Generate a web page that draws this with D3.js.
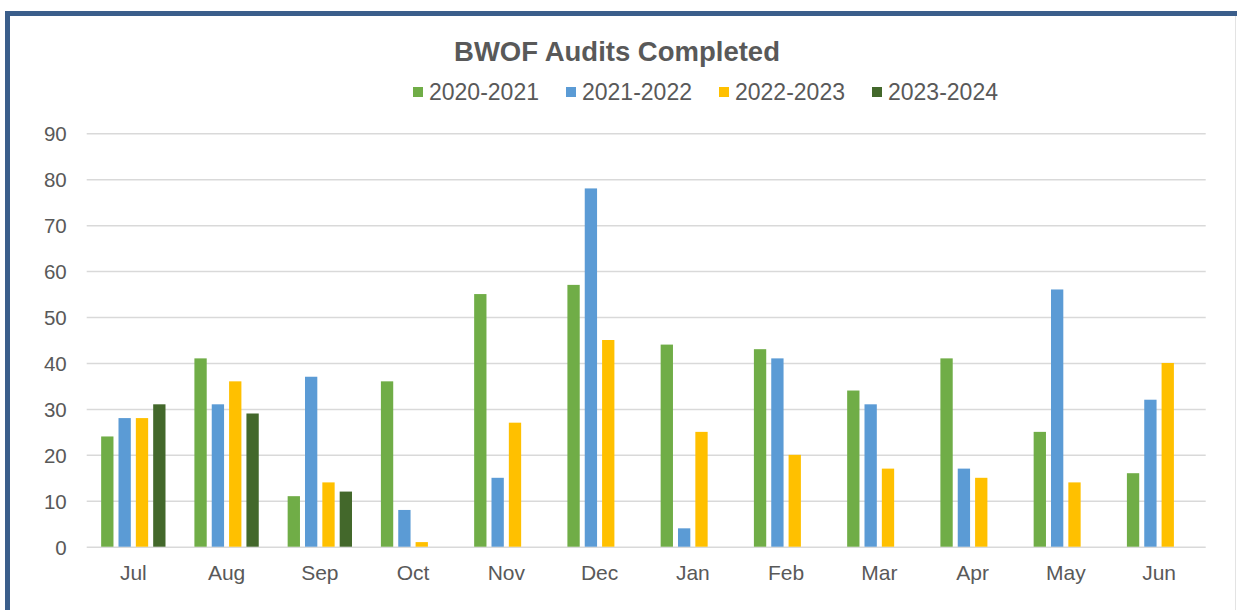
<!DOCTYPE html>
<html lang="en">
<head>
<meta charset="utf-8">
<title>BWOF Audits Completed</title>
<script src="https://d3js.org/d3.v7.min.js"></script>
<style>
  body { margin: 0; background: #fff; }
  svg { display: block; font-family: "Liberation Sans", Arial, sans-serif; }
</style>
</head>
<body>
<script>
// months of the financial year (Jul - Jun)
var months = ["Jul", "Aug", "Sep", "Oct", "Nov", "Dec", "Jan", "Feb", "Mar", "Apr", "May", "Jun"];
var seriesNames = ["2020-2021", "2021-2022", "2022-2023", "2023-2024"];
var seriesColors = ["#70ad47", "#5b9bd5", "#ffc000", "#43682b"];

// audits completed per month, one array per year
var fy2021 = [24, 41, 11, 36, 55, 57, 44, 43, 34, 41, 25, 16];
var fy2122 = [28, 31, 37, 8, 15, 78, 4, 41, 31, 17, 56, 32];
var fy2223 = [28, 36, 14, 1, 27, 45, 25, 20, 17, 15, 14, 40];
var fy2324 = [31, 29, 12, null, null, null, null, null, null, null, null, null];

var yTicks = [0, 10, 20, 30, 40, 50, 60, 70, 80, 90];

var allSeries = [fy2021, fy2122, fy2223, fy2324];

var width = 1237, height = 610;
var plot = { left: 86.7, right: 1205.7, top: 133.3, bottom: 546.7 };

var svg = d3.select("body").append("svg")
    .attr("width", width)
    .attr("height", height);

// outer frame (dark blue border, partly cut off)
svg.append("line")
    .attr("x1", 1235.5).attr("x2", 1235.5)
    .attr("y1", 16).attr("y2", height)
    .attr("stroke", "#e3e3e3").attr("stroke-width", 1);
svg.append("rect")
    .attr("x", 7.5).attr("y", 13.5)
    .attr("width", width + 20).attr("height", height + 20)
    .attr("fill", "none")
    .attr("stroke", "#3b5e8b")
    .attr("stroke-width", 5);

var y = d3.scaleLinear().domain([0, 90]).range([plot.bottom, plot.top]);

var x0 = d3.scaleBand()
    .domain(months)
    .range([plot.left, plot.right])
    .paddingInner(0.31)
    .paddingOuter(0.155);

var x1 = d3.scaleBand()
    .domain(seriesNames)
    .range([0, x0.bandwidth()])
    .paddingInner(0.29);

var color = d3.scaleOrdinal().domain(seriesNames).range(seriesColors);

// gridlines
var yAxis = d3.axisLeft(y)
    .tickValues(yTicks)
    .tickSize(-(plot.right - plot.left))
    .tickPadding(20);

var gy = svg.append("g")
    .attr("transform", "translate(" + plot.left + ",0)")
    .call(yAxis);
gy.select(".domain").remove();
gy.selectAll(".tick line")
    .attr("stroke", "#d9d9d9")
    .attr("stroke-width", 1.5);
gy.selectAll(".tick text")
    .attr("fill", "#595959")
    .attr("font-size", 20.5)
    .attr("dy", "0.36em")
    .attr("font-family", "Liberation Sans, Arial, sans-serif");

// bars
var rows = months.map(function(m, i) {
    return {
        month: m,
        values: seriesNames.map(function(s, j) {
            return { series: s, value: allSeries[j][i] };
        })
    };
});

var groups = svg.selectAll(".month")
    .data(rows)
    .enter().append("g")
    .attr("class", "month")
    .attr("transform", function(d) { return "translate(" + x0(d.month) + ",0)"; });

groups.selectAll("rect")
    .data(function(d) { return d.values.filter(function(v) { return v.value != null; }); })
    .enter().append("rect")
    .attr("x", function(d) { return x1(d.series); })
    .attr("width", x1.bandwidth())
    .attr("y", function(d) { return y(d.value); })
    .attr("height", function(d) { return y(0) - y(d.value); })
    .attr("fill", function(d) { return color(d.series); });

// x axis labels
var xAxis = d3.axisBottom(x0).tickSize(0).tickPadding(18);
var gx = svg.append("g")
    .attr("transform", "translate(0," + plot.bottom + ")")
    .call(xAxis);
gx.select(".domain").remove();
gx.selectAll(".tick text")
    .attr("fill", "#595959")
    .attr("font-size", 21)
    .attr("font-family", "Liberation Sans, Arial, sans-serif");

// title
svg.append("text")
    .attr("x", 617)
    .attr("y", 61)
    .attr("text-anchor", "middle")
    .attr("font-size", 27.5)
    .attr("font-weight", "bold")
    .attr("fill", "#595959")
    .text("BWOF Audits Completed");

// legend
var legend = svg.append("g").attr("transform", "translate(413,0)");
var lx = 0;
seriesNames.forEach(function(s) {
    var item = legend.append("g").attr("transform", "translate(" + lx + ",0)");
    item.append("rect")
        .attr("x", 0).attr("y", 87)
        .attr("width", 10).attr("height", 10)
        .attr("fill", color(s));
    var t = item.append("text")
        .attr("x", 16).attr("y", 100)
        .attr("font-size", 23)
        .attr("fill", "#595959")
        .text(s);
    lx += 16 + t.node().getComputedTextLength() + 27;
});
</script>
</body>
</html>
